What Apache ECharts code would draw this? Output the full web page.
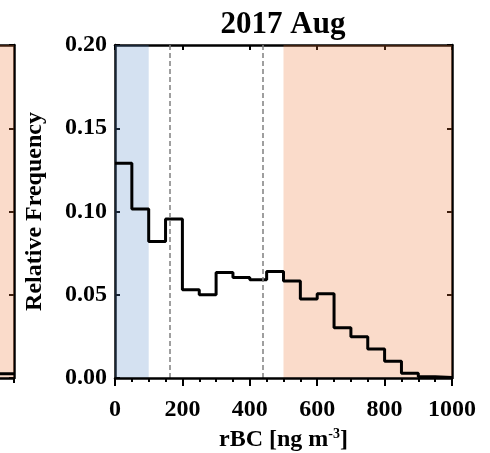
<!DOCTYPE html>
<html>
<head>
<meta charset="utf-8">
<script src="https://cdn.jsdelivr.net/npm/echarts@6/dist/echarts.min.js"></script>
<style>html,body{margin:0;padding:0;background:#fff}#c{width:490px;height:453px}</style>
</head>
<body>
<div id="c"></div>
<script>
// ---- data ----
const titleText = '2017 Aug';
const binEdges = [0,50,100,150,200,250,300,350,400,450,500,550,600,650,700,750,800,850,900,950,1000];
const relFreq = [0.129,0.1015,0.082,0.0955,0.053,0.050,0.0633,0.0603,0.059,0.064,0.0583,0.0474,0.0506,0.0302,0.0248,0.0174,0.0100,0.0028,0.0008,0.0003];
const xTicks = [0,200,400,600,800,1000];
const yTicks = ['0.00','0.05','0.10','0.15','0.20'];
const lowRange = [0,100];      // blue shaded range
const highRange = [500,1000];  // salmon shaded range
const dashedLines = [162,438];
// neighbouring panel (only its right-hand tail is visible)
const leftEdges = [950,1000];
const leftFreq = [0.0025];

function stepData(edges, vals){
  const d = vals.map((v,i)=>[edges[i], v]);
  d.push([edges[edges.length-1], vals[vals.length-1]]);
  return d;
}

const FONT = 'Liberation Serif';
const lab = {fontFamily:FONT, fontWeight:'bold', fontSize:24, color:'#000'};
const frameLine = {show:true, onZero:false, lineStyle:{color:'#000', width:2.5}};
const blueOverlay = 'rgba(90,140,200,0.26)';
const salmonOverlay = 'rgba(235,115,50,0.26)';

const chart = echarts.init(document.getElementById('c'), null, {renderer:'canvas'});
chart.setOption({
  animation:false,
  title:{text:titleText, left:278, top:4, textAlign:'center',
    textStyle:{fontFamily:FONT, fontWeight:'bold', fontSize:31, color:'#000'}},
  grid:[
    {left:115, right:38, top:45, bottom:75, outerBoundsMode:'none'},
    {left:-322, width:336, top:45, bottom:75, outerBoundsMode:'none'}
  ],
  xAxis:[
    {gridIndex:0, type:'value', position:'bottom', min:0, max:1000, interval:200, z:10,
      axisLine:frameLine,
      axisTick:{show:true, inside:false, length:8, lineStyle:{color:'#000', width:2}},
      minorTick:{show:true, splitNumber:4, length:4, lineStyle:{color:'#000', width:2}},
      axisLabel:Object.assign({margin:20, formatter:v=>xTicks.includes(v)?String(v):''}, lab),
      splitLine:{show:false},
      name:'{a|rBC [ng m}{s|-3}{a|]}', nameLocation:'middle', nameGap:47,
      nameTextStyle:{rich:{
        a:{fontFamily:FONT, fontWeight:'bold', fontSize:24, color:'#000'},
        s:{fontFamily:FONT, fontWeight:'bold', fontSize:14, color:'#000', verticalAlign:'top', padding:[0,0,12,0]}
      }}
    },
    {gridIndex:0, type:'value', position:'top', min:0, max:1000, interval:200,
      axisLine:frameLine,
      axisTick:{show:true, inside:true, length:5, lineStyle:{color:'#000', width:2}},
      axisLabel:{show:false}, splitLine:{show:false}},
    {gridIndex:1, type:'value', position:'bottom', min:0, max:1000, interval:200, z:10,
      axisLine:frameLine,
      axisTick:{show:true, inside:false, length:5, lineStyle:{color:'#000', width:2}},
      axisLabel:{show:false}, splitLine:{show:false}},
    {gridIndex:1, type:'value', position:'top', min:0, max:1000, interval:200,
      axisLine:frameLine, axisTick:{show:false}, axisLabel:{show:false}, splitLine:{show:false}}
  ],
  yAxis:[
    {gridIndex:0, type:'value', position:'left', min:0, max:0.2, interval:0.05,
      axisLine:frameLine,
      axisTick:{show:true, inside:true, length:5, lineStyle:{color:'#000', width:2}},
      axisLabel:Object.assign({margin:8, formatter:v=>yTicks[Math.round(v/0.05)]}, lab),
      splitLine:{show:false},
      name:'Relative Frequency', nameLocation:'middle', nameGap:68,
      nameTextStyle:{fontFamily:FONT, fontWeight:'bold', fontSize:24, color:'#000'}},
    {gridIndex:0, type:'value', position:'right', min:0, max:0.2, interval:0.05,
      axisLine:frameLine,
      axisTick:{show:true, inside:true, length:5, lineStyle:{color:'#000', width:2}},
      axisLabel:{show:false}, splitLine:{show:false}},
    {gridIndex:1, type:'value', position:'left', min:0, max:0.2, interval:0.05,
      axisLine:frameLine, axisTick:{show:false}, axisLabel:{show:false}, splitLine:{show:false}},
    {gridIndex:1, type:'value', position:'right', min:0, max:0.2, interval:0.05,
      axisLine:frameLine,
      axisTick:{show:true, inside:true, length:5, lineStyle:{color:'#000', width:2}},
      axisLabel:{show:false}, splitLine:{show:false}}
  ],
  series:[
    {type:'line', xAxisIndex:0, yAxisIndex:0, z:2, step:'end', symbol:'none',
      data:stepData(binEdges, relFreq),
      lineStyle:{color:'#000', width:3},
      markLine:{silent:true, symbol:'none', label:{show:false},
        lineStyle:{color:'#808080', width:1.5, type:[5,3]},
        data:dashedLines.map(v=>({xAxis:v}))}
    },
    {type:'line', xAxisIndex:0, yAxisIndex:0, z:5, data:[], symbol:'none',
      markArea:{silent:true, data:[
        [{xAxis:lowRange[0], itemStyle:{color:blueOverlay}}, {xAxis:lowRange[1]}],
        [{xAxis:highRange[0], itemStyle:{color:salmonOverlay}}, {xAxis:highRange[1]}]
      ]}
    },
    {type:'line', xAxisIndex:2, yAxisIndex:2, z:2, step:'end', symbol:'none',
      data:stepData(leftEdges, leftFreq),
      lineStyle:{color:'#000', width:3}},
    {type:'line', xAxisIndex:2, yAxisIndex:2, z:5, data:[], symbol:'none',
      markArea:{silent:true, data:[
        [{xAxis:0, itemStyle:{color:salmonOverlay}}, {xAxis:1000}]
      ]}
    }
  ]
});
</script>
</body>
</html>
